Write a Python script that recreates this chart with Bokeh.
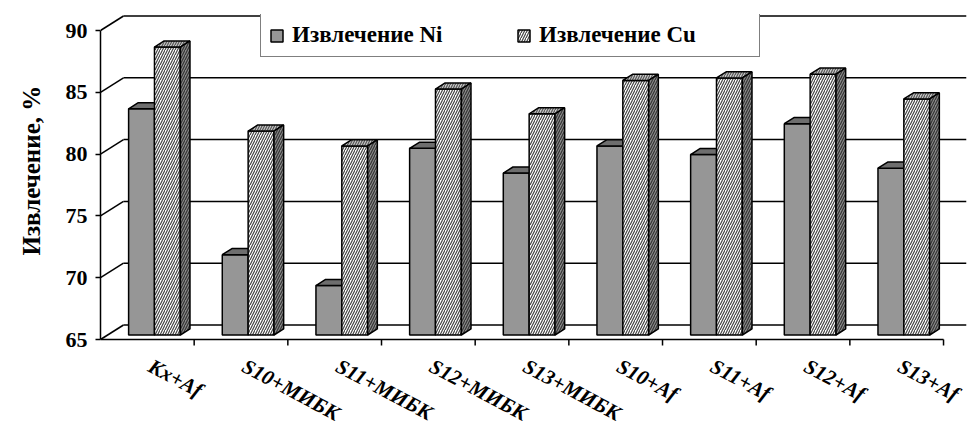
import numpy as np
from bokeh.plotting import figure
from bokeh.models import Range1d, FixedTicker, Legend, LegendItem, Title
from bokeh.core.properties import value
from bokeh.embed import file_html
from bokeh.resources import INLINE

# ---------------- data ----------------
CATEGORIES = ["Kx+Af", "S10+МИБК", "S11+МИБК", "S12+МИБК", "S13+МИБК",
              "S10+Af", "S11+Af", "S12+Af", "S13+Af"]
NI = [83.3, 71.5, 69.0, 80.1, 78.1, 80.3, 79.6, 82.1, 78.5]
CU = [88.3, 81.5, 80.3, 84.9, 82.9, 85.6, 85.8, 86.1, 84.1]
Y_TICKS = [65, 70, 75, 80, 85, 90]
SERIES = ["Извлечение Ni", "Извлечение Cu"]
Y_LABEL = "Извлечение, %"

# ---------------- geometry (style) ----------------
FONT = "Liberation Serif"
N = len(CATEGORIES)
YMIN, YMAX = Y_TICKS[0], Y_TICKS[-1]
W, H = 972, 425
LEFT, TOP = 100, 14
PX_X = 93.67          # px per category
PX_Y = 12.36          # px per percent
FLOOR_PX = 339        # screen y of the front floor line
FRAME_W, FRAME_H = W - LEFT - 6, H - TOP
X_END = FRAME_W / PX_X
Y_START = YMIN - (H - FLOOR_PX) / PX_Y
Y_END = YMIN + (FLOOR_PX - TOP) / PX_Y
DXF = 23 / PX_X       # full depth offset (x, data units)
DYF = 14.5 / PX_Y     # full depth offset (y, data units)
F0, F1 = 0.31, 0.73   # bar depth (front / back fraction)
BAR_W = 0.276
TICK_LEN = 6 / PX_Y

p = figure(width=W, height=H, x_range=Range1d(0, X_END), y_range=Range1d(Y_START, Y_END),
           output_backend="svg", toolbar_location=None, x_axis_location=None,
           min_border_left=LEFT, min_border_right=6, min_border_top=TOP, min_border_bottom=0)
p.grid.visible = False
p.outline_line_color = None
p.background_fill_color = "white"
p.border_fill_color = "white"

# ---------------- walls / gridlines ----------------
yt = np.array(Y_TICKS, dtype=float)
p.segment(x0=np.full(len(yt), DXF), y0=yt + DYF, x1=np.full(len(yt), N + DXF), y1=yt + DYF,
          line_color="black", line_width=1.5)
p.segment(x0=np.zeros(len(yt)), y0=yt, x1=np.full(len(yt), DXF), y1=yt + DYF,
          line_color="black", line_width=1.5)

# ---------------- category (floor) axis ----------------
p.segment(x0=[0], y0=[YMIN], x1=[N], y1=[YMIN], line_color="black", line_width=1.5)
bounds = np.arange(1, N + 1)
p.segment(x0=bounds, y0=np.full(N, YMIN), x1=bounds, y1=np.full(N, YMIN - TICK_LEN),
          line_color="black", line_width=1.5)
c = np.arange(N)
p.text(x=c + 0.53, y=np.full(N, float(YMIN)), text=CATEGORIES, angle=-0.49,
       text_align="left", text_baseline="middle", y_offset=25,
       text_font=value(FONT), text_font_style="bold italic",
       text_font_size="21px", text_color="black")

# ---------------- bars ----------------
ni = np.array(NI)
cu = np.array(CU)
sx, sy = F0 * DXF, F0 * DYF
ddx, ddy = (F1 - F0) * DXF, (F1 - F0) * DYF
center = c + 0.5 + sx
base = YMIN + sy

def top_face(left, right, top):
    xs = [[l, r, r + ddx, l + ddx] for l, r in zip(left, right)]
    ys = [[t, t, t + ddy, t + ddy] for t in top]
    return xs, ys

ni_l, ni_r = center - BAR_W, center
cu_l, cu_r = center, center + BAR_W

ni_front = p.quad(left=ni_l, right=ni_r, bottom=base, top=ni + sy,
                  fill_color="#969696", line_color="black", line_width=1.5)
xs, ys = top_face(ni_l, ni_r, ni + sy)
p.patches(xs=xs, ys=ys, fill_color="#6e6e6e", line_color="black", line_width=1.5)

HATCH = dict(hatch_pattern="/", hatch_scale=5, hatch_weight=1.2)
cu_front = p.quad(left=cu_l, right=cu_r, bottom=base, top=cu + sy,
                  fill_color="white", hatch_color="#444444", line_color="black",
                  line_width=1.5, **HATCH)
xs, ys = top_face(cu_l, cu_r, cu + sy)
p.patches(xs=xs, ys=ys, fill_color="#c8c8c8", hatch_color="#555555",
          line_color="black", line_width=1.5, **HATCH)
side_xs = [[r, r, r + ddx, r + ddx] for r in cu_r]
side_ys = [[base, t, t + ddy, base + ddy] for t in cu + sy]
p.patches(xs=side_xs, ys=side_ys, fill_color="#8a8a8a", hatch_color="#333333",
          line_color="black", line_width=1.5, **HATCH)

# ---------------- value axis ----------------
ya = p.yaxis[0]
ya.ticker = FixedTicker(ticks=Y_TICKS)
ya.bounds = (YMIN, YMAX)
ya.axis_line_width = 1.5
ya.axis_line_color = "black"
ya.major_tick_out = 5
ya.major_tick_in = 0
ya.major_tick_line_width = 1.5
ya.minor_tick_line_color = None
ya.major_label_standoff = 8
ya.major_label_text_font = FONT
ya.major_label_text_font_style = "bold"
ya.major_label_text_font_size = "22px"
ya.major_label_text_color = "black"

# vertical axis title, placed along the 65..90 span
ytitle = Title(text=Y_LABEL, align="left", offset=170, standoff=32, vertical_align="top",
               text_font=FONT, text_font_style="bold", text_font_size="25px",
               text_color="black")
p.add_layout(ytitle, "left")

# ---------------- legend ----------------
legend = Legend(items=[LegendItem(label=SERIES[0], renderers=[ni_front]),
                       LegendItem(label=SERIES[1], renderers=[cu_front])],
                orientation="horizontal", location=(160, H - 57),
                glyph_width=15, glyph_height=15, label_standoff=8, label_width=212,
                label_height=24, spacing=12, padding=8, margin=0,
                label_text_font=FONT, label_text_font_style="bold",
                label_text_font_size="23px", label_text_color="black",
                border_line_color="black", border_line_width=1.5,
                background_fill_color="white", background_fill_alpha=1.0)
p.add_layout(legend)

open("out.html", "w").write(file_html(p, INLINE))
